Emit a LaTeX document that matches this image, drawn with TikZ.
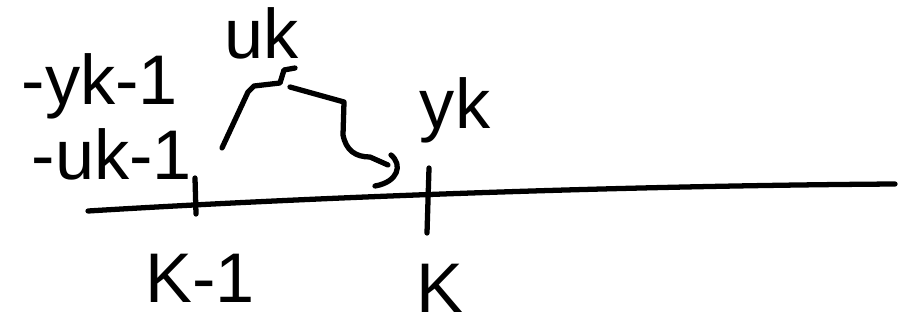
\documentclass[tikz,border=0pt]{standalone}
\usepackage{fontspec}
\setmainfont{Liberation Sans}
\usetikzlibrary{positioning}

\begin{document}
\begin{tikzpicture}[x=0.02cm,y=-0.02cm,
  pen/.style={line width=3pt,line cap=round,line join=round},
  hand/.style={inner sep=0pt,font=\fontsize{40}{42}\selectfont}]
\useasboundingbox (0,0) rectangle (909,331);
%axis
\coordinate (L) at (88,211);
\coordinate (R) at (895,184);
\draw[pen] (L) .. controls (300,198) and (600,186) .. (R);
%ticks
\coordinate (T1a) at (195,178);
\coordinate (T1b) at (196,214);
\coordinate (T2a) at (429,168);
\coordinate (T2b) at (427,233);
\draw[pen] (T1a) -- (T1b);
\draw[pen] (T2a) -- (T2b);
%labels
\node[hand] (ym) at (100,86) {-yk-1};
\node[hand] (um) at (112,154) {-uk-1};
\node[hand] (uk) at (262,33) {uk};
\node[hand] (yk) at (455,110) {yk};
\node[hand] (km) at (200,278) {K-1};
\node[hand] (kk) at (440,288) {K};
%brace over the step
\coordinate (B0) at (222,148);
\coordinate (B1) at (295,68);
\coordinate (B2) at (290,87);
\coordinate (B3) at (388,165);
\coordinate (B4) at (375,186);
\draw[pen] (B0) -- (248,92) -- (254,86) -- (280,83) -- (284,70) -- (B1);
\draw[pen] (B2) -- (344,102) -- (343,135) .. controls (346,150) and (355,157) .. (370,157) -- (B3);
\draw[pen] (391,155) .. controls (403,165) and (398,182) .. (B4);
\end{tikzpicture}
\end{document}
